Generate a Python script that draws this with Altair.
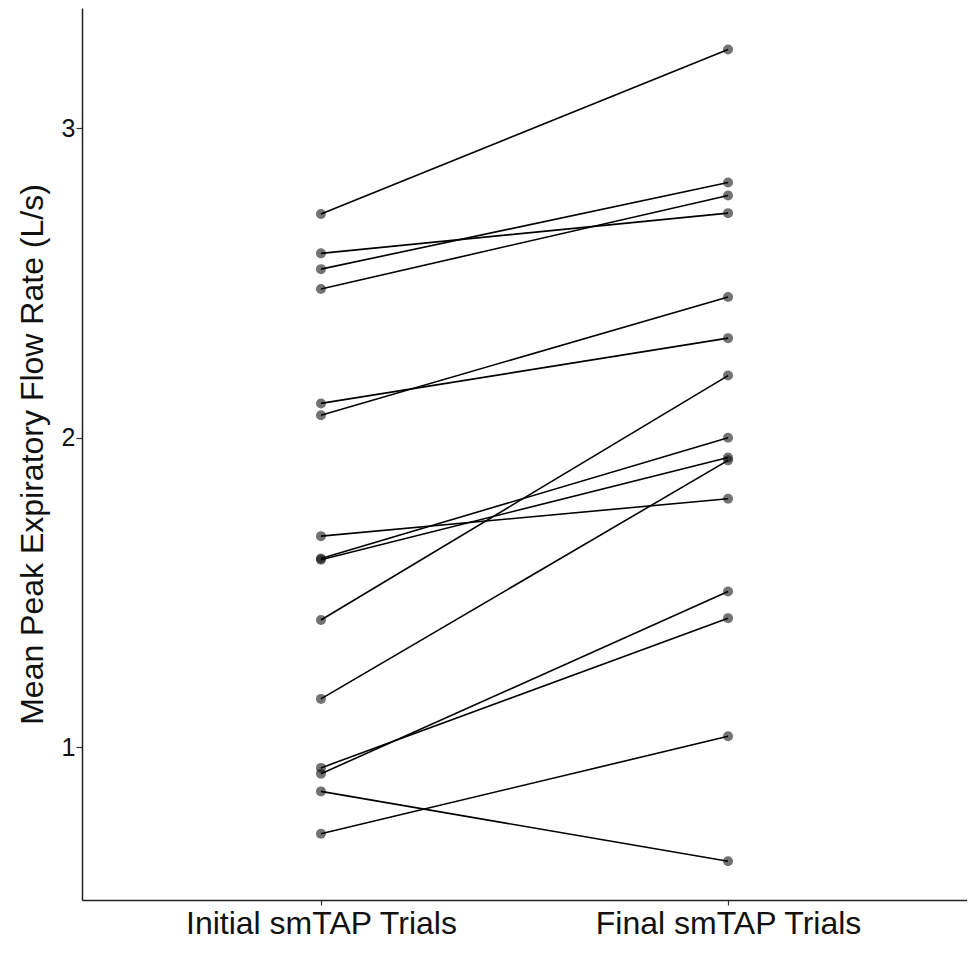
import altair as alt
import pandas as pd

conditions = ["Initial smTAP Trials", "Final smTAP Trials"]
subjects = list(range(1, 16))
initial = [2.723, 2.596, 2.545, 2.481, 2.111, 2.073, 1.682, 1.610, 1.606, 1.411, 1.156, 0.933, 0.914, 0.857, 0.720]
final = [3.255, 2.726, 2.825, 2.783, 2.322, 2.455, 1.803, 2.000, 1.936, 2.201, 1.927, 1.417, 1.503, 0.631, 1.035]

rows = []
for s, a, b in zip(subjects, initial, final):
    rows.append({"subject": s, "condition": conditions[0], "pefr": a})
    rows.append({"subject": s, "condition": conditions[1], "pefr": b})
df = pd.DataFrame(rows)

FONT = "Liberation Sans"
x = alt.X("condition:N", sort=conditions, title=None,
          scale=alt.Scale(type="point", padding=0.587),
          axis=alt.Axis(labelAngle=0, labelFontSize=32, labelPadding=3,
                        labelLimit=0, labelColor="#111111", tickSize=5,
                        tickColor="#333333", domainColor="#222222",
                        domainWidth=1.5, tickWidth=1.2, labelFont=FONT))
y = alt.Y("pefr:Q", title="Mean Peak Expiratory Flow Rate (L/s)",
          scale=alt.Scale(domain=[0.506, 3.389], nice=False, zero=False),
          axis=alt.Axis(values=[1, 2, 3], format="d", grid=False,
                        labelFontSize=25, labelColor="#111111", tickSize=6,
                        tickColor="#333333", tickWidth=1.2, domainColor="#222222",
                        domainWidth=1.5, labelPadding=1,
                        titleFontSize=32, titleFontWeight="normal",
                        titleColor="#111111", titlePadding=12,
                        labelFont=FONT, titleFont=FONT))

points = alt.Chart(df).mark_circle(size=100, color="black", opacity=0.55).encode(
    x=x, y=y, detail="subject:N")
lines = alt.Chart(df).mark_line(color="black", strokeWidth=1.6).encode(
    x=x, y=y, detail="subject:N")

chart = alt.layer(points, lines).properties(
    width=885, height=892,
    autosize=alt.AutoSizeParams(type="none"),
    padding={"left": 74, "top": 0, "right": 0, "bottom": 42},
).configure_view(stroke=None)

chart.save("out.html", embed_options={"renderer": "svg", "actions": False})
